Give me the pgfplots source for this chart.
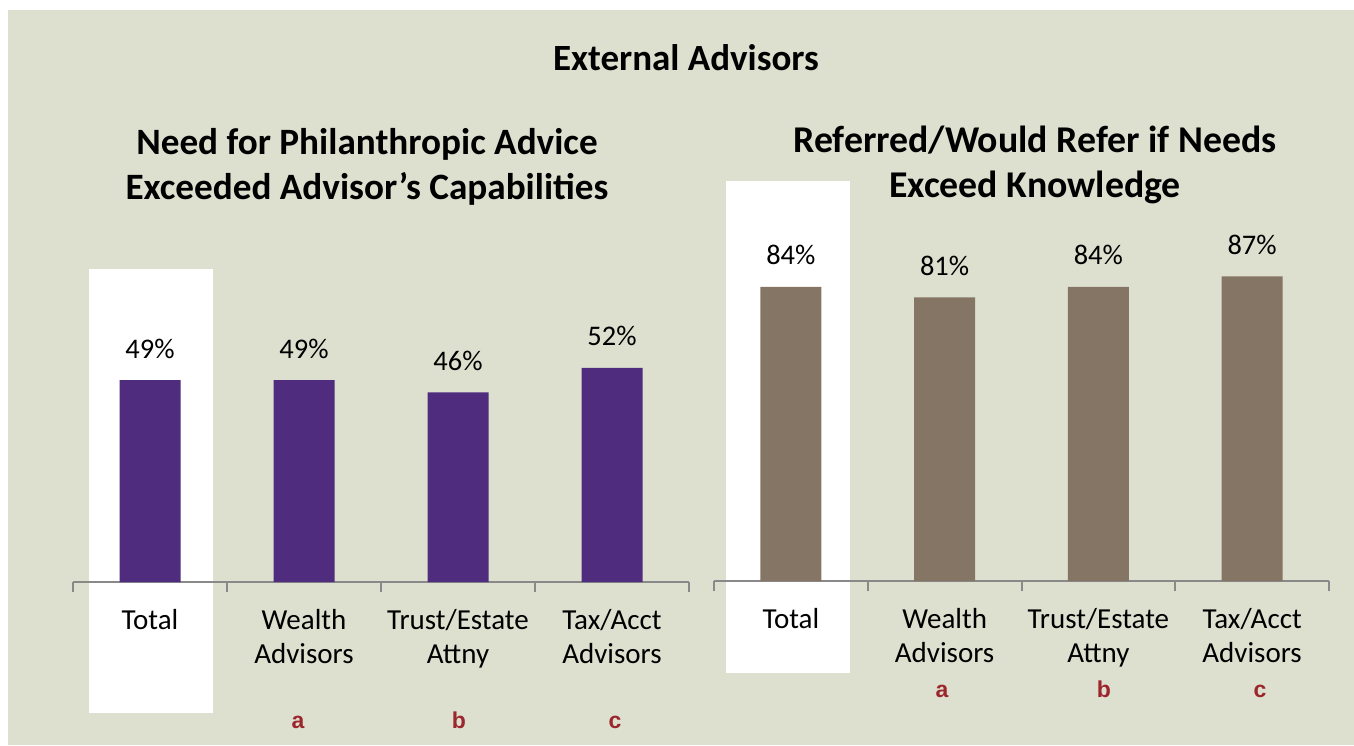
\documentclass[border=0pt]{standalone}
\usepackage{fontspec}
\setmainfont{Carlito}
\newfontfamily\arialfont{Liberation Sans}
\usepackage{pgfplots}
\pgfplotsset{compat=1.18}

\definecolor{bgc}{RGB}{221,224,207}
\definecolor{purp}{RGB}{79,44,125}
\definecolor{taupe}{RGB}{133,117,101}
\definecolor{axgray}{RGB}{137,137,137}
\definecolor{sigred}{RGB}{156,38,44}

\pgfplotsset{
  advbar/.style={
    scale only axis, anchor=south west, clip=false,
    xmin=-0.5, xmax=3.5, ymin=0, ymax=100,
    hide y axis, axis x line*=bottom,
    x axis line style={draw=axgray, line width=1pt, -},
    xtick={0,1,2,3},
    xticklabels={Total,{Wealth\\Advisors},{Trust/Estate\\Attny},{Tax/Acct\\Advisors}},
    major tick length=0pt,
    minor xtick={-0.5,0.5,1.5,2.5,3.5},
    minor tick length=5pt, tick align=outside,
    minor tick style={draw=axgray, line width=1pt},
    xticklabel style={font=\fontsize{14.5}{17}\selectfont, align=center, anchor=north, yshift=-10pt},
    /pgf/number format/assume math mode=true,
    nodes near coords={\pgfmathprintnumber{\pgfplotspointmeta}\%},
    every node near coord/.append style={font=\fontsize{14.2}{17}\selectfont, text=black, anchor=base, yshift=11pt},
  }
}

\begin{document}
\begin{tikzpicture}
% frame and background
\fill[white] (0,0) rectangle (677pt,372.5pt);
\fill[bgc] (4pt,0) rectangle (677pt,367.5pt);
% highlighted "Total" columns
\fill[white] (44.5pt,16pt) rectangle (106.5pt,238pt);
\fill[white] (363pt,36pt) rectangle (425pt,282pt);

% titles
\node[anchor=base, font=\fontsize{18.5}{22}\selectfont\bfseries] at (343pt,337pt) {External Advisors};
\node[anchor=base, font=\fontsize{18.6}{22}\selectfont\bfseries] at (183.5pt,295pt) {Need for Philanthropic Advice};
\node[anchor=base, font=\fontsize{18.6}{22}\selectfont\bfseries] at (183.5pt,272.5pt) {Exceeded Advisor’s Capabilities};
\node[anchor=base, font=\fontsize{18.9}{22}\selectfont\bfseries] at (517.5pt,296pt) {Referred/Would Refer if Needs};
\node[anchor=base, font=\fontsize{18.9}{22}\selectfont\bfseries] at (517.5pt,273.5pt) {Exceed Knowledge};

% left chart
\begin{axis}[advbar, at={(36.5pt,81.5pt)}, width=308pt, height=206pt]
\addplot[ybar, bar width=30.5pt, fill=purp, draw=none] coordinates {(0,49) (1,49) (2,46) (3,52)};
\end{axis}

% right chart
\begin{axis}[advbar, at={(357pt,82pt)}, width=307.5pt, height=175pt]
\addplot[ybar, bar width=30.5pt, fill=taupe, draw=none] coordinates {(0,84) (1,81) (2,84) (3,87)};
\end{axis}

% significance letters
\begin{scope}[every node/.style={anchor=base, text=sigred, font=\arialfont\bfseries\fontsize{11.5}{13}\selectfont}]
\node at (149pt,8.5pt) {a};
\node at (229.5pt,8.5pt) {b};
\node at (307.5pt,8.5pt) {c};
\node at (471pt,24pt) {a};
\node at (552pt,24pt) {b};
\node at (630pt,24pt) {c};
\end{scope}
\end{tikzpicture}
\end{document}
